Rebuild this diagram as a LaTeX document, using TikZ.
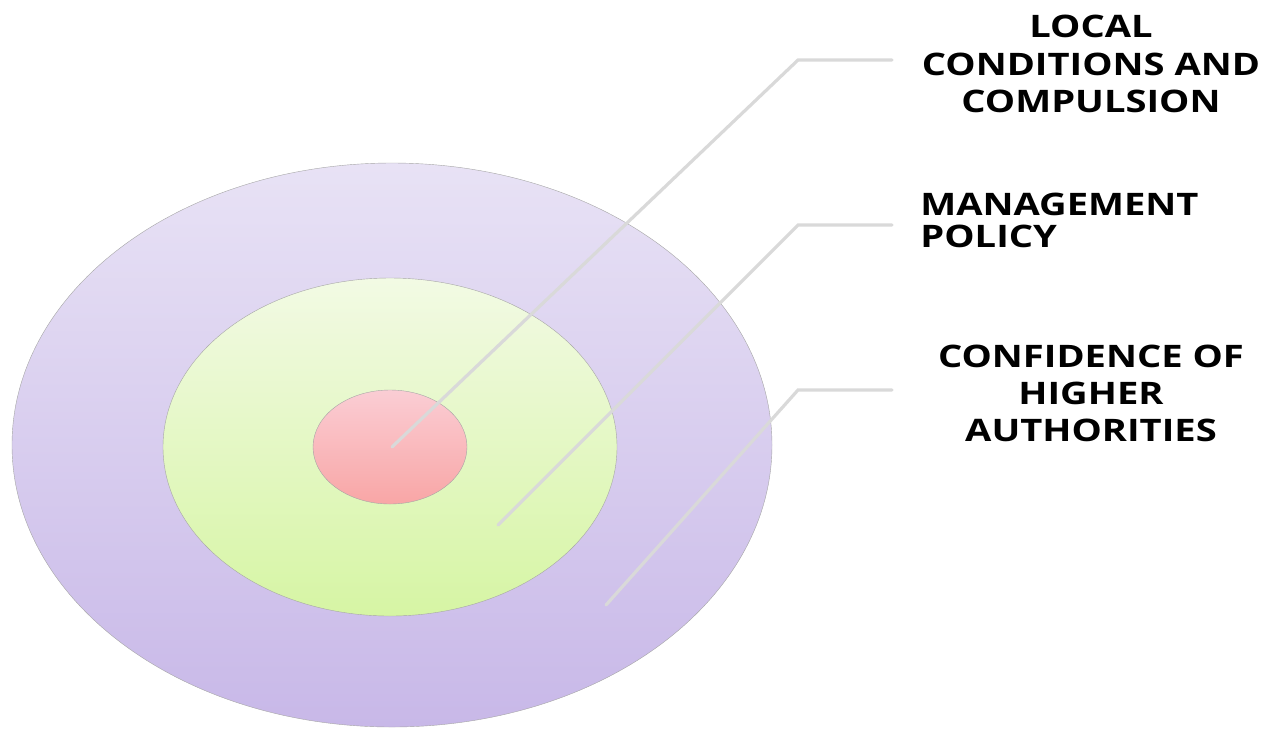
\documentclass[tikz,border=0pt]{standalone}
\usepackage{fontspec}
\setmainfont[FakeStretch=1.23]{Open Sans}
\usetikzlibrary{shapes.geometric}
\usetikzlibrary{positioning}
\begin{document}
\begin{tikzpicture}[x=0.5pt,y=-0.5pt,
	ring/.style={ellipse,draw=gray!70,very thin,inner sep=0pt},
	lead/.style={draw=gray!30,line width=1.6pt,line cap=round},
	lbl/.style={font=\bfseries,inner sep=0pt,text=black}]
	\useasboundingbox (0,0) rectangle (1264,730);
	\node[ring,minimum width=380pt,minimum height=282pt,top color={rgb,255:red,232;green,226;blue,245},bottom color={rgb,255:red,200;green,184;blue,232}] (outer) at (392,445) {};
	\node[ring,minimum width=227pt,minimum height=169pt,top color={rgb,255:red,242;green,250;blue,228},bottom color={rgb,255:red,214;green,245;blue,164}] (mid) at (390,447) {};
	\node[ring,minimum width=77pt,minimum height=57pt,top color={rgb,255:red,250;green,205;blue,212},bottom color={rgb,255:red,249;green,166;blue,166}] (core) at (390,447) {};
	% leader lines
	\coordinate (a1) at (392,447); \coordinate (b1) at (798,60); \coordinate (c1) at (892,60);
	\coordinate (a2) at (498,525); \coordinate (b2) at (798,225); \coordinate (c2) at (892,225);
	\coordinate (a3) at (606,605); \coordinate (b3) at (798,390); \coordinate (c3) at (892,390);
	\foreach \i in {1,2,3} \draw[lead] (a\i) -- (b\i) -- (c\i);
	\node[lbl,anchor=north,align=center,font=\bfseries\fontsize{15.5}{18.75}\selectfont] (local) at (1091,15) {LOCAL\\CONDITIONS AND\\COMPULSION};
	\node[lbl,anchor=north west,align=left,font=\bfseries\fontsize{15.5}{16}\selectfont] (mgmt) at (920,193) {MANAGEMENT\\POLICY};
	\node[lbl,anchor=north,align=center,font=\bfseries\fontsize{15.5}{18.5}\selectfont] (conf) at (1091,345) {CONFIDENCE OF\\HIGHER\\AUTHORITIES};
\end{tikzpicture}
\end{document}
